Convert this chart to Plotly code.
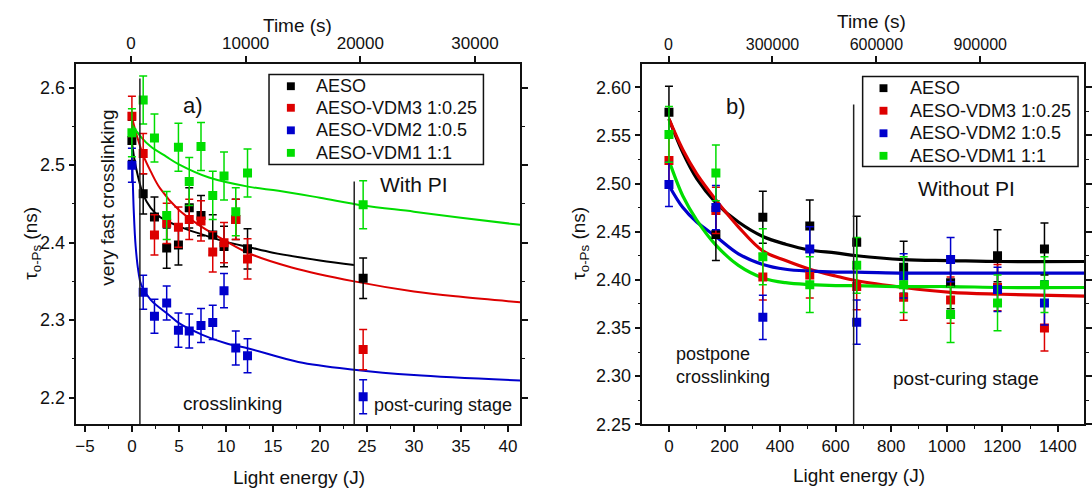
import plotly.graph_objects as go

FONT = "Arial, Liberation Sans, sans-serif"
SERIES = ["AESO", "AESO-VDM3 1:0.25", "AESO-VDM2 1:0.5", "AESO-VDM1 1:1"]
COLORS = ["#000000", "#dd0000", "#0000cc", "#00dd00"]

# ---- panel a) : with photoinitiator ----
energy_a = [0, 1.2, 2.4, 3.7, 4.95, 6.1, 7.35, 8.6, 9.8, 11.05, 12.3, 24.6]
tau_a = [
    [2.532, 2.463, 2.433, 2.393, 2.397, 2.445, 2.435, 2.410, 2.395, 2.430, 2.392, 2.354],
    [2.563, 2.515, 2.410, 2.425, 2.420, 2.430, 2.428, 2.388, 2.400, 2.430, 2.379, 2.262],
    [2.500, 2.336, 2.305, 2.322, 2.287, 2.286, 2.293, 2.297, 2.338, 2.264, 2.254, 2.201],
    [2.542, 2.584, 2.535, 2.435, 2.523, 2.479, 2.524, 2.461, 2.486, 2.440, 2.490, 2.449],
]
err_a = [0.026, 0.026, 0.022, 0.031]

fit_a_x = [
    [0, 0.3, 0.6, 1.2, 2, 3, 5, 7.35, 10, 12.5, 15, 20, 23.65],
    [0, 0.6, 1.2, 2, 3, 5, 7.35, 10, 12.5, 17, 23.65, 30, 35, 41.3],
    [0.05, 0.2, 0.4, 0.7, 1.0, 2, 4, 5, 7.5, 10, 12.5, 17.7, 23.65, 30, 41.3],
    [0, 1, 2, 3.66, 5, 8.2, 12.5, 15.6, 20, 24.6, 30, 35, 41.3],
]
fit_a_y = [
    [2.530, 2.505, 2.488, 2.462, 2.445, 2.433, 2.421, 2.411, 2.401, 2.394, 2.387, 2.377, 2.371],
    [2.562, 2.535, 2.513, 2.492, 2.470, 2.442, 2.421, 2.402, 2.386, 2.368, 2.350, 2.337, 2.330, 2.323],
    [2.500, 2.440, 2.395, 2.362, 2.345, 2.326, 2.306, 2.296, 2.281, 2.270, 2.263, 2.246, 2.236, 2.229, 2.222],
    [2.552, 2.536, 2.524, 2.511, 2.501, 2.484, 2.472, 2.467, 2.458, 2.448, 2.440, 2.432, 2.423],
]

# ---- panel b) : without photoinitiator ----
energy_b = [0, 169, 338, 507, 676, 845, 1014, 1183, 1352]
tau_b = [
    [2.574, 2.447, 2.465, 2.456, 2.439, 2.413, 2.397, 2.425, 2.432],
    [2.524, 2.472, 2.403, 2.405, 2.393, 2.382, 2.379, 2.392, 2.350],
    [2.499, 2.475, 2.361, 2.432, 2.356, 2.404, 2.421, 2.390, 2.376],
    [2.551, 2.511, 2.424, 2.395, 2.415, 2.395, 2.364, 2.376, 2.395],
]
err_b = [0.027, 0.024, 0.023, 0.029]

fit_b_x = [0, 50, 100, 169, 250, 338, 420, 507, 600, 676, 845, 1014, 1200, 1500]
fit_b_y = [
    [2.567, 2.532, 2.505, 2.480, 2.460, 2.445, 2.437, 2.431, 2.428, 2.425, 2.421, 2.420, 2.419, 2.419],
    [2.567, 2.535, 2.510, 2.483, 2.455, 2.430, 2.420, 2.411, 2.404, 2.399, 2.392, 2.387, 2.385, 2.383],
    [2.498, 2.475, 2.460, 2.445, 2.427, 2.416, 2.411, 2.409, 2.408, 2.408, 2.407, 2.407, 2.407, 2.407],
    [2.524, 2.487, 2.462, 2.436, 2.415, 2.402, 2.397, 2.395, 2.394, 2.394, 2.393, 2.393, 2.392, 2.392],
]

fig = go.Figure()

# fitted curves
for i in range(4):
    fig.add_trace(go.Scatter(x=fit_a_x[i], y=fit_a_y[i], mode="lines", line=dict(color=COLORS[i], width=2, shape="spline"),
                             xaxis="x", yaxis="y", showlegend=False, hoverinfo="skip"))
    fig.add_trace(go.Scatter(x=fit_b_x, y=fit_b_y[i], mode="lines", line=dict(color=COLORS[i], width=3.2, shape="spline"),
                             xaxis="x3", yaxis="y3", showlegend=False, hoverinfo="skip"))

# measured points with error bars
for i in range(4):
    fig.add_trace(go.Scatter(
        x=energy_a, y=tau_a[i], mode="markers", name=SERIES[i],
        marker=dict(symbol="square", size=9, color=COLORS[i]),
        error_y=dict(type="constant", value=err_a[i], color=COLORS[i], thickness=1.5, width=4),
        xaxis="x", yaxis="y", showlegend=False))
for i in range(4):
    fig.add_trace(go.Scatter(
        x=energy_b, y=tau_b[i], mode="markers", name=SERIES[i],
        marker=dict(symbol="square", size=9, color=COLORS[i]),
        error_y=dict(type="constant", value=err_b[i], color=COLORS[i], thickness=1.5, width=4),
        xaxis="x3", yaxis="y3", showlegend=False))

# invisible traces that keep the time axes alive
fig.add_trace(go.Scatter(x=[0], y=[2.4], xaxis="x2", yaxis="y", mode="markers", marker=dict(opacity=0),
                         showlegend=False, hoverinfo="skip"))
fig.add_trace(go.Scatter(x=[0], y=[2.4], xaxis="x4", yaxis="y3", mode="markers", marker=dict(opacity=0),
                         showlegend=False, hoverinfo="skip"))


def axis_style(size):
    return dict(showline=True, linecolor="#111", linewidth=1.5, ticks="outside", tickcolor="#111",
                tickwidth=1.5, ticklen=6, showgrid=False, zeroline=False,
                tickfont=dict(family=FONT, size=size, color="#111"))


minor = dict(ticks="outside", ticklen=3, tickcolor="#111", tickwidth=1.2, showgrid=False)

dom_a = [0.0696, 0.4789]
dom_b = [0.5916, 0.9995]
dom_y = [0.1288, 0.8692]

fig.update_layout(
    width=1092, height=497, margin=dict(l=0, r=0, t=0, b=0),
    paper_bgcolor="white", plot_bgcolor="white",
    font=dict(family=FONT, color="#111"),
    showlegend=False,
    xaxis=dict(domain=dom_a, range=[-5.9, 41.3], tickvals=[-5, 0, 5, 10, 15, 20, 25, 30, 35, 40],
               minor=dict(dtick=2.5, tick0=0, **minor), anchor="y", **axis_style(17)),
    xaxis2=dict(domain=dom_a, range=[-4762, 33939], overlaying="x", side="top", anchor="y",
                tickvals=[0, 10000, 20000, 30000], tickformat="d", **axis_style(17)),
    yaxis=dict(domain=dom_y, range=[2.1655, 2.631], tickvals=[2.2, 2.3, 2.4, 2.5, 2.6], mirror="ticks",
               minor=dict(dtick=0.05, tick0=2.2, **minor), anchor="x", **axis_style(18)),
    xaxis3=dict(domain=dom_b, range=[-96, 1496], tickvals=[0, 200, 400, 600, 800, 1000, 1200, 1400],
                minor=dict(dtick=100, tick0=0, **minor), anchor="y3", **axis_style(17)),
    xaxis4=dict(domain=dom_b, range=[-75900, 1200900], overlaying="x3", side="top", anchor="y3",
                tickvals=[0, 300000, 600000, 900000], tickformat="d", **axis_style(16)),
    yaxis3=dict(domain=dom_y, range=[2.25, 2.6244], tickvals=[2.25, 2.30, 2.35, 2.40, 2.45, 2.50, 2.55, 2.60],
                tickformat=".2f", minor=dict(dtick=0.025, tick0=2.25, **minor), anchor="x3", mirror="ticks",
                **axis_style(18)),
)

# stage boundaries
fig.add_shape(type="line", xref="x", yref="y", x0=0.85, x1=0.85, y0=2.1655, y1=2.612,
              line=dict(color="#222", width=1.5))
fig.add_shape(type="line", xref="x", yref="y", x0=23.65, x1=23.65, y0=2.1655, y1=2.479,
              line=dict(color="#222", width=1.5))
fig.add_shape(type="line", xref="x3", yref="y3", x0=665, x1=665, y0=2.25, y1=2.582,
              line=dict(color="#222", width=1.5))


def note(text, x, y, ref, size=19, angle=0, align="center", xanchor="center"):
    fig.add_annotation(text=text, x=x, y=y, xref=ref[0], yref=ref[1], showarrow=False, textangle=angle,
                       font=dict(family=FONT, size=size, color="#111"), align=align,
                       xanchor=xanchor, yanchor="middle")


paper = ("paper", "paper")
H, W = 497.0, 1092.0


def px(xp, yp):
    return xp / W, 1 - yp / H


# boxed legends: frame, colour swatch and label for every series
def legend_box(left, top, right, bottom, swatch_x, text_x, rows):
    x0, y0 = px(left, top)
    x1, y1 = px(right, bottom)
    fig.add_shape(type="rect", xref="paper", yref="paper", x0=x0, y0=y1, x1=x1, y1=y0,
                  line=dict(color="#111", width=1.5), fillcolor="white", layer="above")
    for name, color, row in zip(SERIES, COLORS, rows):
        sx0, sy0 = px(swatch_x - 4, row - 4)
        sx1, sy1 = px(swatch_x + 4, row + 4)
        fig.add_shape(type="rect", xref="paper", yref="paper", x0=sx0, y0=sy1, x1=sx1, y1=sy0,
                      line=dict(width=0), fillcolor=color, layer="above")
        tx, ty = px(text_x, row)
        note(name, tx, ty, paper, size=18, xanchor="left")


legend_box(270, 76, 486, 168, 292, 315, [88, 110, 133, 156])
legend_box(868, 78, 1085, 170, 889, 914, [90, 113, 136, 159])

# axis titles
note("Time (s)", *px(299, 26), paper, size=19)
note("Time (s)", *px(877, 22), paper, size=19)
note("Light energy (J)", *px(300, 487), paper, size=19)
note("Light energy (J)", *px(864, 485), paper, size=19)
note("τ<sub>o-Ps</sub> (ns)", *px(31, 248), paper, size=19, angle=-90)
note("τ<sub>o-Ps</sub> (ns)", *px(583, 248), paper, size=19, angle=-90)

# panel labels and stage notes
note("a)", 6.5, 2.577, ("x", "y"), size=22)
note("very fast crosslinking", -2.55, 2.458, ("x", "y"), size=19, angle=-90)
note("crosslinking", 10.7, 2.192, ("x", "y"), size=19)
note("With PI", 30.0, 2.475, ("x", "y"), size=21)
note("post-curing stage", 33.05, 2.191, ("x", "y"), size=18)

note("b)", 240, 2.58, ("x3", "y3"), size=22)
note("Without PI", 1071, 2.495, ("x3", "y3"), size=21)
note("postpone<br>crosslinking", 17, 2.311, ("x3", "y3"), size=18, align="left", xanchor="left")
note("post-curing stage", 1071, 2.298, ("x3", "y3"), size=19)

fig.write_html("out.html")
